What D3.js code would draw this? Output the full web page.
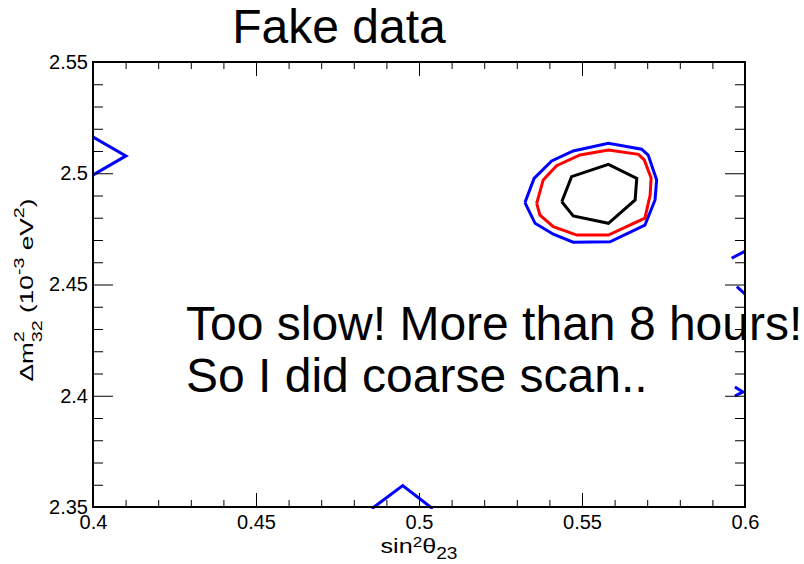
<!DOCTYPE html>
<html>
<head>
<meta charset="utf-8">
<script src="https://cdn.jsdelivr.net/npm/d3@7"></script>
<style>
  html, body { margin: 0; padding: 0; background: #fff; }
  svg { display: block; }
  text { font-family: "Liberation Sans", Arial, Helvetica, sans-serif; fill: #000; white-space: pre; }
</style>
</head>
<body>
<svg id="chart" width="804" height="564"></svg>
<script>
// Axis ranges and tick labels
const xDomain = [0.4, 0.6];
const yDomain = [2.35, 2.55];
const xMajorTicks = [0.4, 0.45, 0.5, 0.55, 0.6];
const xTickLabels = ["0.4", "0.45", "0.5", "0.55", "0.6"];
const yMajorTicks = [2.35, 2.4, 2.45, 2.5, 2.55];
const yTickLabels = ["2.35", "2.4", "2.45", "2.5", "2.55"];

// Contours from the coarse (sin^2 theta23, dm^2_32) scan
const contourBlack = [
  [0.5438, 2.4872], [0.5468, 2.4985], [0.5581, 2.5040], [0.5668, 2.4977],
  [0.5663, 2.4880], [0.5581, 2.4775], [0.5473, 2.4808], [0.5438, 2.4872]
];
const contourRed = [
  [0.5361, 2.4865], [0.5381, 2.4970], [0.5422, 2.5034], [0.5494, 2.5082],
  [0.5581, 2.5104], [0.5673, 2.5085], [0.5691, 2.5060], [0.5712, 2.4979],
  [0.5709, 2.4902], [0.5693, 2.4798], [0.5581, 2.4722], [0.5484, 2.4722],
  [0.5412, 2.4760], [0.5371, 2.4812], [0.5361, 2.4865]
];
const contourBlue = [
  [0.5325, 2.4868], [0.5353, 2.4977], [0.5407, 2.5055], [0.5473, 2.5100],
  [0.5581, 2.5135], [0.5683, 2.5108], [0.5703, 2.5082], [0.5729, 2.4970],
  [0.5724, 2.4880], [0.5693, 2.4767], [0.5586, 2.4692], [0.5473, 2.4690],
  [0.5412, 2.4726], [0.5356, 2.4775], [0.5325, 2.4868]
];
// Outer blue islands cut by the frame
const blueLeft = [[0.3995, 2.5167], [0.4101, 2.5078], [0.3995, 2.4988]];
const blueBottom = [[0.4855, 2.3492], [0.4950, 2.3596], [0.5042, 2.3492]];
const blueRightA = [[0.5959, 2.4618], [0.6003, 2.4652]];
const blueRightB = [[0.5975, 2.4490], [0.6003, 2.4453]];
const blueRightC = [[0.5969, 2.4039], [0.5994, 2.4017], [0.5969, 2.3999]];

const svg = d3.select("#chart");
const W = 804, H = 564;
const m = { left: 93, top: 62, right: 59, bottom: 57 };
const pw = W - m.left - m.right, ph = H - m.top - m.bottom;

const x = d3.scaleLinear().domain(xDomain).range([m.left, m.left + pw]);
const y = d3.scaleLinear().domain(yDomain).range([m.top + ph, m.top]);

const FONT = 20;

// clip region for contours
svg.append("defs").append("clipPath").attr("id", "frameClip")
  .append("rect").attr("x", m.left - 1).attr("y", m.top).attr("width", pw + 1).attr("height", ph + 2);

const line = d3.line().x(d => x(d[0])).y(d => y(d[1]));
const plot = svg.append("g").attr("clip-path", "url(#frameClip)");
const drawLine = (pts, color) => plot.append("path")
  .attr("d", line(pts)).attr("fill", "none").attr("stroke", color)
  .attr("stroke-width", 3).attr("stroke-linejoin", "miter");

[contourBlue, blueLeft, blueBottom, blueRightA, blueRightB, blueRightC]
  .forEach(p => drawLine(p, "#0000ff"));
drawLine(contourRed, "#ff0000");
drawLine(contourBlack, "#000000");

// minor tick values
const xMinor = d3.range(0, 21).map(i => +(0.4 + i * 0.01).toFixed(2)).filter(v => !xMajorTicks.includes(v));
const yMinor = d3.range(0, 21).map(i => +(2.35 + i * 0.01).toFixed(2)).filter(v => !yMajorTicks.includes(v));

function styleAxis(g) {
  g.select(".domain").remove();
  g.selectAll(".tick line").attr("stroke", "#000").attr("stroke-width", 1);
  g.selectAll(".tick text").style("font-size", FONT + "px")
    .style("font-family", '"Liberation Sans", Arial, sans-serif').attr("fill", "#000");
}

// bottom axis
svg.append("g").attr("transform", `translate(0,${m.top + ph})`)
  .call(d3.axisBottom(x).tickValues(xMajorTicks).tickSizeInner(-14).tickSizeOuter(0)
    .tickPadding(8).tickFormat((d, i) => xTickLabels[i])).call(styleAxis);
svg.append("g").attr("transform", `translate(0,${m.top + ph})`)
  .call(d3.axisBottom(x).tickValues(xMinor).tickSizeInner(-7).tickSizeOuter(0).tickFormat("")).call(styleAxis);
// top axis (ticks only)
svg.append("g").attr("transform", `translate(0,${m.top})`)
  .call(d3.axisTop(x).tickValues(xMajorTicks).tickSizeInner(-14).tickSizeOuter(0).tickFormat("")).call(styleAxis);
svg.append("g").attr("transform", `translate(0,${m.top})`)
  .call(d3.axisTop(x).tickValues(xMinor).tickSizeInner(-7).tickSizeOuter(0).tickFormat("")).call(styleAxis);
// left axis
svg.append("g").attr("transform", `translate(${m.left},0)`)
  .call(d3.axisLeft(y).tickValues(yMajorTicks).tickSizeInner(-20).tickSizeOuter(0)
    .tickPadding(5).tickFormat((d, i) => yTickLabels[i])).call(styleAxis);
svg.append("g").attr("transform", `translate(${m.left},0)`)
  .call(d3.axisLeft(y).tickValues(yMinor).tickSizeInner(-10).tickSizeOuter(0).tickFormat("")).call(styleAxis);
// right axis (ticks only)
svg.append("g").attr("transform", `translate(${m.left + pw},0)`)
  .call(d3.axisRight(y).tickValues(yMajorTicks).tickSizeInner(-20).tickSizeOuter(0).tickFormat("")).call(styleAxis);
svg.append("g").attr("transform", `translate(${m.left + pw},0)`)
  .call(d3.axisRight(y).tickValues(yMinor).tickSizeInner(-10).tickSizeOuter(0).tickFormat("")).call(styleAxis);

// frame
svg.append("rect").attr("x", m.left).attr("y", m.top).attr("width", pw).attr("height", ph)
  .attr("fill", "none").attr("stroke", "#000").attr("stroke-width", 2);

// Lay out rich text pieces: {t, mode: "n"|"sup"|"sub", stack: bool}
function richText(g, pieces, size, opt) {
  let cx = 0, lastStart = 0, lastW = 0;
  pieces.forEach(p => {
    const fs = p.mode === "sup" ? size * opt.supSize : p.mode === "sub" ? size * opt.subSize : size;
    const dy = p.mode === "sup" ? -size * opt.up : p.mode === "sub" ? size * opt.down : 0;
    const start = p.stack ? lastStart : cx;
    const t = g.append("text").attr("x", start).attr("y", dy)
      .style("font-size", fs + "px").text(p.t);
    const w = t.node().getComputedTextLength();
    if (p.stack) { cx = lastStart + Math.max(lastW, w); }
    else { lastStart = start; lastW = w; cx = start + w; }
  });
  return cx;
}

// x-axis title (font is drawn slightly wide)
const xt = svg.append("g");
const xScaleX = 1.2;
const xw = richText(xt, [
  { t: "sin", mode: "n" }, { t: "2", mode: "sup" }, { t: "θ", mode: "n" }, { t: "23", mode: "sub" }
], 21, { supSize: 0.68, subSize: 0.76, up: 0.3, down: 0.3 });
xt.attr("transform", `translate(${m.left + pw / 2 - xw * xScaleX / 2},553) scale(${xScaleX},1)`);

// y-axis title (rotated, drawn wide along the text)
const yt = svg.append("g");
const yScaleL = 1.38;
const yw = richText(yt, [
  { t: "Δm", mode: "n" }, { t: "2", mode: "sup" }, { t: "32", mode: "sub", stack: true },
  { t: " (10", mode: "n" }, { t: "-3", mode: "sup" }, { t: " eV", mode: "n" },
  { t: "2", mode: "sup" }, { t: ")", mode: "n" }
], 19, { supSize: 0.75, subSize: 0.75, up: 0.5, down: 0.45 });
yt.attr("transform", `translate(33,${290 + yw * yScaleL / 2}) rotate(-90) scale(${yScaleL},1)`);

// title
svg.append("text").attr("x", 339).attr("y", 43).attr("text-anchor", "middle")
  .style("font-size", "48px").text("Fake data");

// annotation
const note = svg.append("text").attr("x", 186).style("font-size", "48px");
note.append("tspan").attr("x", 186).attr("y", 340).text("Too slow! More than 8 hours!");
note.append("tspan").attr("x", 186).attr("y", 392).text("So I did coarse scan..");
</script>
</body>
</html>
